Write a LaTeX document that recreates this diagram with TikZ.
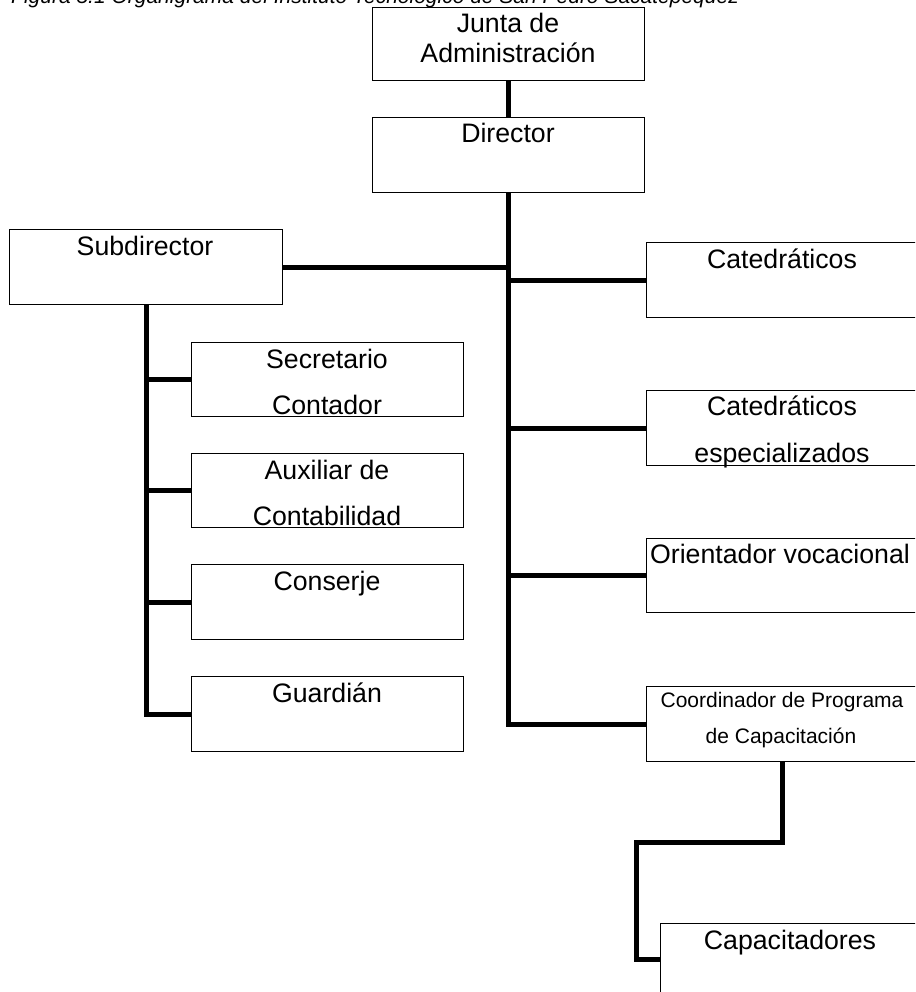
\documentclass[tikz,border=0pt]{standalone}
\usepackage{fontspec}
\setmainfont{Liberation Sans}
\begin{document}
\begin{tikzpicture}[x=1pt,y=-1pt,
  box/.style={draw=black, line width=1.2pt, minimum width=272pt, minimum height=75pt, inner sep=0pt, anchor=north west},
  lbl/.style={anchor=base, inner sep=0pt, font=\fontsize{26.7}{30}\selectfont},
  slbl/.style={anchor=base, inner sep=0pt, font=\fontsize{21}{24}\selectfont},
  conn/.style={line width=5pt, line join=miter}]
\useasboundingbox (0,0) rectangle (915,992);
\clip (0,0) rectangle (915,992);

% caption (cut at the top)
\node[anchor=base west, inner sep=0pt, font=\fontsize{21}{24}\selectfont\itshape] (caption) at (11,3.5) {Figura 5.1 Organigrama del Instituto Tecnológico de San Pedro Sacatepéquez};

% boxes
\node[box, minimum height=73pt] (junta) at (372,7) {};
\node[box] (director) at (372,117) {};
\node[box, minimum width=273pt] (sub) at (9,229) {};
\node[box, minimum height=74pt] (secr) at (191,342) {};
\node[box, minimum height=74pt] (aux) at (191,453) {};
\node[box] (cons) at (191,564) {};
\node[box] (guard) at (191,676) {};
\node[box] (cat) at (646,242) {};
\node[box] (catesp) at (646,390) {};
\node[box, minimum height=74pt] (orient) at (646,538) {};
\node[box] (coord) at (646,686) {};
\node[box] (capac) at (660,923) {};

% connectors
\draw[conn] (junta.south) -- (director.north);
\draw[conn] (director.south) |- (coord.west);
\draw[conn] (sub.east) -- (sub.east -| director.south);
\draw[conn] (cat.west) -- (cat.west -| director.south);
\draw[conn] (catesp.west) -- (catesp.west -| director.south);
\draw[conn] (orient.west) -- (orient.west -| director.south);
\draw[conn] (sub.south) |- (guard.west);
\draw[conn] (secr.west) -- (secr.west -| sub.south);
\draw[conn] (aux.west) -- (aux.west -| sub.south);
\draw[conn] (cons.west) -- (cons.west -| sub.south);
\coordinate (bendA) at (636,842);
\coordinate (bendB) at (636,959);
\draw[conn] (coord.south) |- (bendA) -- (bendB) -- (bendB -| capac.west);

% texts
\node[lbl] (tjunta1) at (508,33) {Junta de};
\node[lbl] (tjunta2) at (508,63) {Administración};
\node[lbl] (tdir) at (508,143) {Director};
\node[lbl] (tsub) at (145,255) {Subdirector};
\node[lbl] (tsecr1) at (327,368) {Secretario};
\node[lbl] (tsecr2) at (327,414) {Contador};
\node[lbl] (taux1) at (327,479) {Auxiliar de};
\node[lbl] (taux2) at (327,525) {Contabilidad};
\node[lbl] (tcons) at (327,590) {Conserje};
\node[lbl] (tguard) at (327,702) {Guardián};
\node[lbl] (tcat) at (782,268) {Catedráticos};
\node[lbl] (tcatesp1) at (782,415) {Catedráticos};
\node[lbl] (tcatesp2) at (782,462) {especializados};
\node[lbl] (torient) at (780,563) {Orientador vocacional};
\node[slbl] (tcoord1) at (782,707) {Coordinador de Programa};
\node[slbl] (tcoord2) at (781,743) {de Capacitación};
\node[lbl] (tcapac) at (790,949) {Capacitadores};
\end{tikzpicture}
\end{document}
